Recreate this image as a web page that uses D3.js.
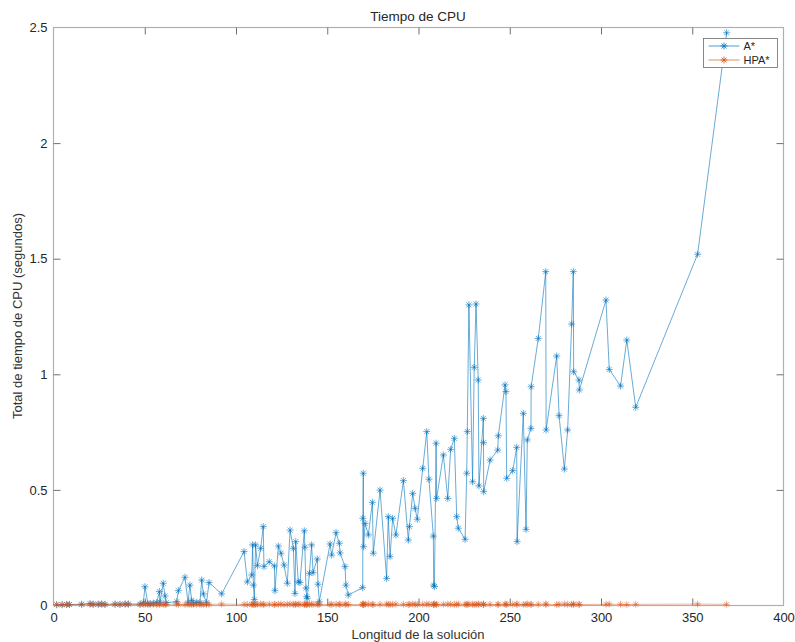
<!DOCTYPE html>
<html>
<head>
<meta charset="utf-8">
<title>Tiempo de CPU</title>
<style>
	body { margin: 0; background: #fff; }
	svg text { font-family: "Liberation Sans", Arial, sans-serif; fill: #262626; }
	.title { font-size: 13.5px; }
	.axisLabel { font-size: 13px; fill: #333; }
	.legendText { font-size: 11px; }
</style>
</head>
<body>
<svg id="chart" width="795" height="642"></svg>
<script src="https://cdn.jsdelivr.net/npm/d3@7"></script>
<script>

// longitud de la solución (eje x)
var longitud = [
	2, 5, 7.5, 9, 15.7, 20.3, 22, 24.8, 26.7, 28.5,
	34, 36.7, 39.5, 41.3, 47.7, 49.5, 50.4, 52, 53.2, 55,
	56.8, 58.3, 58.6, 60.4, 61.4, 62, 67.8, 68.7, 72.3, 74,
	75, 76, 77, 78.7, 80.5, 81.5, 82.4, 84.1, 85.5, 92.4,
	104.7, 106.5, 108.9, 109.4, 109.8, 110.3, 111, 112, 113.8, 115.2,
	115.6, 118.5, 121.3, 121.6, 123.5, 124.9, 126.6, 128.4, 129.9, 131.7,
	132.6, 133, 134.4, 135.3, 137.7, 138, 138.6, 139, 139.3, 140.5,
	141.7, 142.5, 144.8, 145.2, 145.9, 151.8, 152.7, 155.1, 156.9, 157.3,
	160, 160.5, 161.8, 169.7, 169.8, 170, 170.2, 171, 172.8, 175,
	175.5, 179.2, 182.8, 183.7, 184.7, 186.1, 187.9, 192, 194.7, 195.3,
	197.1, 198.4, 199.6, 202.6, 204.8, 206, 208.4, 208.6, 209, 209.9,
	210.2, 213.9, 216.3, 217.9, 219.9, 221.2, 222.1, 225.8, 226.7, 227,
	227.9, 229.9, 230.8, 231.8, 233, 233.4, 235.8, 235.9, 236, 239.5,
	243.7, 244, 247.7, 248.2, 248.6, 251.9, 254.1, 254.3, 257.7, 259.2,
	259.9, 261.9, 262, 265.9, 270, 270.2, 276, 277.3, 280.2, 282,
	284.2, 285.1, 285.3, 288.2, 288.4, 303, 304.8, 311, 314.4, 319.3,
	353.2, 369.1
];

// tiempo total de CPU de A* (segundos)
var tiempoAstar = [
	0.001, 0.001, 0.002, 0.002, 0.003, 0.006, 0.004, 0.003, 0.005, 0.003,
	0.004, 0.003, 0.005, 0.004, 0.004, 0.010, 0.079, 0.006, 0.005, 0.008,
	0.010, 0.058, 0.012, 0.094, 0.039, 0.010, 0.014, 0.062, 0.120, 0.010,
	0.086, 0.020, 0.008, 0.012, 0.010, 0.108, 0.048, 0.010, 0.097, 0.048,
	0.231, 0.100, 0.130, 0.260, 0.086, 0.024, 0.260, 0.170, 0.245, 0.339,
	0.166, 0.187, 0.169, 0.062, 0.255, 0.224, 0.173, 0.094, 0.324, 0.245,
	0.050, 0.274, 0.100, 0.097, 0.321, 0.250, 0.073, 0.036, 0.029, 0.137,
	0.260, 0.140, 0.199, 0.090, 0.014, 0.264, 0.216, 0.313, 0.267, 0.225,
	0.166, 0.086, 0.043, 0.075, 0.375, 0.570, 0.252, 0.353, 0.303, 0.444,
	0.224, 0.497, 0.115, 0.382, 0.209, 0.375, 0.303, 0.538, 0.281, 0.339,
	0.483, 0.418, 0.371, 0.591, 0.750, 0.544, 0.298, 0.086, 0.080, 0.700,
	0.461, 0.649, 0.461, 0.673, 0.721, 0.382, 0.332, 0.284, 0.570, 0.750,
	1.298, 0.533, 1.028, 1.302, 0.973, 0.515, 0.807, 0.702, 0.490, 0.627,
	0.670, 0.732, 0.952, 0.923, 0.548, 0.581, 0.682, 0.274, 0.829, 0.327,
	0.714, 0.764, 0.944, 1.153, 1.442, 0.757, 1.077, 0.819, 0.588, 0.757,
	1.215, 1.442, 1.009, 0.973, 0.930, 1.319, 1.019, 0.947, 1.146, 0.855,
	1.517, 2.475
];

// tiempo total de CPU de HPA* (segundos)
var tiempoHPA = [
	0.002, 0.002, 0.003, 0.002, 0.003, 0.003, 0.002, 0.004, 0.003, 0.002,
	0.003, 0.002, 0.003, 0.004, 0.002, 0.003, 0.003, 0.002, 0.004, 0.003,
	0.002, 0.003, 0.004, 0.003, 0.002, 0.003, 0.004, 0.003, 0.002, 0.003,
	0.004, 0.002, 0.003, 0.003, 0.002, 0.004, 0.003, 0.002, 0.003, 0.004,
	0.003, 0.002, 0.003, 0.004, 0.003, 0.002, 0.003, 0.003, 0.004, 0.002,
	0.003, 0.004, 0.002, 0.003, 0.003, 0.004, 0.002, 0.003, 0.004, 0.003,
	0.002, 0.003, 0.004, 0.003, 0.002, 0.003, 0.004, 0.002, 0.003, 0.003,
	0.004, 0.002, 0.003, 0.004, 0.003, 0.002, 0.003, 0.003, 0.004, 0.002,
	0.003, 0.004, 0.002, 0.003, 0.004, 0.003, 0.002, 0.003, 0.004, 0.003,
	0.002, 0.003, 0.004, 0.003, 0.002, 0.003, 0.004, 0.003, 0.002, 0.003,
	0.004, 0.003, 0.002, 0.003, 0.004, 0.003, 0.002, 0.003, 0.004, 0.003,
	0.002, 0.003, 0.004, 0.003, 0.002, 0.003, 0.004, 0.003, 0.002, 0.003,
	0.004, 0.003, 0.002, 0.003, 0.004, 0.003, 0.002, 0.003, 0.004, 0.003,
	0.002, 0.003, 0.004, 0.003, 0.002, 0.003, 0.004, 0.003, 0.002, 0.003,
	0.004, 0.003, 0.002, 0.003, 0.004, 0.003, 0.002, 0.003, 0.004, 0.003,
	0.002, 0.003, 0.004, 0.003, 0.002, 0.003, 0.004, 0.003, 0.002, 0.003,
	0.004, 0.003
];

var seriesNames = ['A*', 'HPA*'];
var seriesColors = ['#0072BD', '#D95319'];
var xTicks = [0, 50, 100, 150, 200, 250, 300, 350, 400];
var yTicks = [0, 0.5, 1, 1.5, 2, 2.5];

var mLeft = 53, mRight = 783, mTop = 27, mBottom = 605;

var svg = d3.select('#chart');

var x = d3.scaleLinear().domain([0, 400]).range([mLeft, mRight]);
var y = d3.scaleLinear().domain([0, 2.5]).range([mBottom, mTop]);

var tickLen = 7;

// caja de los ejes
svg.append('rect')
	.attr('x', mLeft + 0.5)
	.attr('y', mTop + 0.5)
	.attr('width', mRight - mLeft)
	.attr('height', mBottom - mTop)
	.attr('fill', 'none')
	.attr('stroke', '#b0b0b0')
	.attr('stroke-width', 1.2);

// ejes (ticks hacia dentro, como en MATLAB)
var xAxis = svg.append('g')
	.attr('transform', 'translate(0.5,' + (mBottom + 0.5) + ')')
	.call(d3.axisBottom(x).tickValues(xTicks).tickSize(-tickLen).tickPadding(7).tickFormat(d3.format('')));
var xAxisTop = svg.append('g')
	.attr('transform', 'translate(0.5,' + (mTop + 0.5) + ')')
	.call(d3.axisTop(x).tickValues(xTicks).tickSize(-tickLen).tickFormat(''));
var yAxis = svg.append('g')
	.attr('transform', 'translate(' + (mLeft + 0.5) + ',0.5)')
	.call(d3.axisLeft(y).tickValues(yTicks).tickSize(-tickLen).tickPadding(6).tickFormat(d3.format('')));
var yAxisRight = svg.append('g')
	.attr('transform', 'translate(' + (mRight + 0.5) + ',0.5)')
	.call(d3.axisRight(y).tickValues(yTicks).tickSize(-tickLen).tickFormat(''));

[xAxis, xAxisTop, yAxis, yAxisRight].forEach(function(g) {
	g.select('.domain').remove();
	g.selectAll('.tick line').attr('stroke', '#707070');
	g.selectAll('.tick text').attr('fill', '#404040').style('font-family', '"Liberation Sans", Arial, sans-serif').style('font-size', '13px');
});
// quitar ticks en las esquinas
[xAxis, xAxisTop].forEach(function(g) {
	g.selectAll('.tick').filter(function(d) { return d === 0 || d === 400; }).select('line').remove();
});
[yAxis, yAxisRight].forEach(function(g) {
	g.selectAll('.tick').filter(function(d) { return d === 0 || d === 2.5; }).select('line').remove();
});

// marcador asterisco
var star = 'M-3.5,0H3.5M0,-3.5V3.5M-2.5,-2.5L2.5,2.5M-2.5,2.5L2.5,-2.5';

var series = [tiempoAstar, tiempoHPA].map(function(vals, k) {
	return {
		name: seriesNames[k],
		color: seriesColors[k],
		points: longitud.map(function(l, i) { return [l, vals[i]]; })
	};
});

var line = d3.line()
	.x(function(d) { return x(d[0]); })
	.y(function(d) { return y(d[1]); });

var plot = svg.append('g');

series.forEach(function(s, k) {
	var g = plot.append('g');
	g.append('path')
		.datum(s.points)
		.attr('d', line)
		.attr('fill', 'none')
		.attr('stroke', s.color)
		.attr('stroke-width', 0.7)
		.attr('stroke-opacity', k === 0 ? 0.85 : 0.6);
	g.selectAll('.marker')
		.data(s.points)
		.enter()
		.append('path')
		.classed('marker', true)
		.attr('d', star)
		.attr('transform', function(d) { return 'translate(' + x(d[0]) + ',' + y(d[1]) + ')'; })
		.attr('fill', 'none')
		.attr('stroke', s.color)
		.attr('stroke-width', 0.8)
		.attr('stroke-opacity', k === 0 ? 0.75 : 0.6);
});

// título y etiquetas
svg.append('text')
	.classed('title', true)
	.attr('x', (mLeft + mRight) / 2)
	.attr('y', 21)
	.attr('text-anchor', 'middle')
	.text('Tiempo de CPU');

svg.append('text')
	.classed('axisLabel', true)
	.attr('x', (mLeft + mRight) / 2)
	.attr('y', 639)
	.attr('text-anchor', 'middle')
	.text('Longitud de la solución');

svg.append('text')
	.classed('axisLabel', true)
	.attr('transform', 'translate(22,' + ((mTop + mBottom) / 2) + ') rotate(-90)')
	.attr('text-anchor', 'middle')
	.text('Total de tiempo de CPU (segundos)');

// leyenda
var legend = svg.append('g').attr('transform', 'translate(703.5,38.5)');
legend.append('rect')
	.attr('width', 74)
	.attr('height', 29)
	.attr('fill', '#fff')
	.attr('stroke', '#6a6a6a')
	.attr('stroke-width', 0.8);

series.forEach(function(s, i) {
	var row = legend.append('g').attr('transform', 'translate(0,' + (7.5 + i * 14) + ')');
	row.append('line')
		.attr('x1', 5).attr('x2', 36)
		.attr('stroke', s.color)
		.attr('stroke-width', 0.8)
		.attr('stroke-opacity', 0.85);
	row.append('path')
		.attr('d', star)
		.attr('transform', 'translate(20.5,0)')
		.attr('fill', 'none')
		.attr('stroke', s.color)
		.attr('stroke-width', 0.8);
	row.append('text')
		.classed('legendText', true)
		.attr('x', 40)
		.attr('y', 4)
		.text(s.name);
});

</script>
</body>
</html>
